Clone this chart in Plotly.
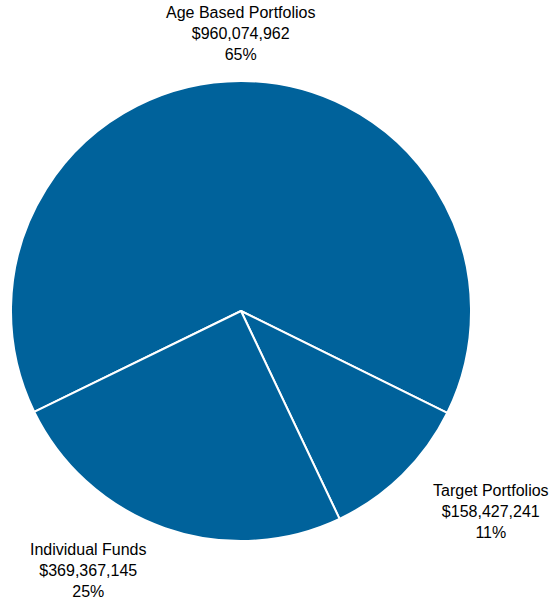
import plotly.graph_objects as go

# Plan assets by investment type
categories = ["Age Based Portfolios", "Target Portfolios", "Individual Funds"]
assets = [960074962, 158427241, 369367145]
pct_labels = ["65%", "11%", "25%"]

BLUE = "#00629B"

# label anchor points (paper coords), one per category
label_x = [0.4348, 0.8886, 0.1612]
label_y = [0.9449, 0.1469, 0.0484]

fig = go.Figure(
    go.Pie(
        labels=categories,
        values=assets,
        textinfo="none",
        marker=dict(colors=[BLUE] * 3, line=dict(color="white", width=2)),
        sort=False,
        direction="clockwise",
        rotation=244,
        hoverinfo="label+value+percent",
        domain=dict(x=[0.0199, 0.8533], y=[0.0968, 0.8648]),
    )
)

for cat, val, pct, x, y in zip(categories, assets, pct_labels, label_x, label_y):
    fig.add_annotation(
        x=x, y=y, xref="paper", yref="paper",
        text=f"{cat}<br>${val:,}<br>{pct}",
        showarrow=False,
        xanchor="center", yanchor="middle",
        font=dict(family="Liberation Sans, Arial", size=16, color="#000000"),
    )

fig.update_layout(
    width=552,
    height=599,
    margin=dict(l=0, r=0, t=0, b=0),
    showlegend=False,
    paper_bgcolor="white",
    plot_bgcolor="white",
)

# drop the default body margin so the figure fills the window
fig.write_html(
    "out.html",
    config={"displayModeBar": False},
    post_script="document.body.style.margin='0';",
)
